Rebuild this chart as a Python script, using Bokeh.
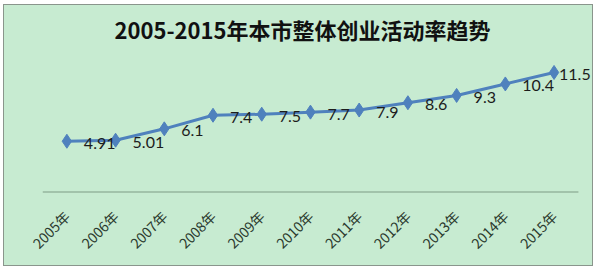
from math import pi
from bokeh.plotting import figure
from bokeh.models import ColumnDataSource, LabelSet, Range1d, FixedTicker, Title
from bokeh.core.properties import value
from bokeh.embed import file_html
from bokeh.resources import INLINE

title_text = "2005-2015年本市整体创业活动率趋势"
years = ["2005年", "2006年", "2007年", "2008年", "2009年", "2010年",
         "2011年", "2012年", "2013年", "2014年", "2015年"]
rates = [4.91, 5.01, 6.1, 7.4, 7.5, 7.7, 7.9, 8.6, 9.3, 10.4, 11.5]
rate_labels = ["4.91", "5.01", "6.1", "7.4", "7.5", "7.7", "7.9", "8.6", "9.3", "10.4", "11.5"]

BG = "#c7ebd1"
W, H = 590, 262
n = len(years)
idx = list(range(n))
# label placement: right of each point; the last one is squeezed against the edge
lab_dx = [17] * (n - 1) + [5]

p = figure(width=W, height=H, x_range=Range1d(-0.5, n - 0.5 + 0.33), y_range=Range1d(0, 13.7),
           output_backend="svg", toolbar_location=None,
           background_fill_color=None, border_fill_color=None, outline_line_color=None,
           min_border_left=38, min_border_right=0, min_border_top=39, min_border_bottom=75)
p.margin = (4, 5, 4, 3)
p.styles = {"border": "1px solid #8a958c", "background-color": BG}

p.title = Title(text=title_text, align="left", offset=72,
                text_font="Noto Sans CJK SC", text_font_style="bold",
                text_font_size="22px", text_color="#111111")

# category baseline (x axis line) spanning only the category band
p.segment(x0=[-0.5], y0=[0], x1=[n - 0.5], y1=[0], line_color="#7e9c86", line_width=2)

src = ColumnDataSource(dict(x=idx, y=rates, t=rate_labels, dx=lab_dx))
p.line("x", "y", source=src, line_color="#4f81bd", line_width=3)
p.scatter("x", "y", source=src, marker="diamond", size=14, fill_color="#4f81bd",
          line_color="#4f81bd")
p.add_layout(LabelSet(x="x", y="y", text="t", source=src, x_offset="dx", y_offset=-2,
                      text_baseline="middle", text_align="left", text_font=value("Lato"),
                      text_font_size=value("16px"), text_color=value("#1c1c1c")))

p.yaxis.visible = False
p.xgrid.visible = False
p.ygrid.visible = False
ax = p.xaxis[0]
ax.ticker = FixedTicker(ticks=idx)
ax.major_label_overrides = {i: y for i, y in zip(idx, years)}
ax.axis_line_color = None
ax.major_tick_line_color = None
ax.minor_tick_line_color = None
ax.major_label_orientation = pi / 4
ax.major_label_text_font = "Noto Sans CJK SC"
ax.major_label_text_font_size = "14px"
ax.major_label_text_color = "#2b3a2e"
ax.major_label_standoff = 15

open("out.html", "w").write(file_html(p, INLINE))
